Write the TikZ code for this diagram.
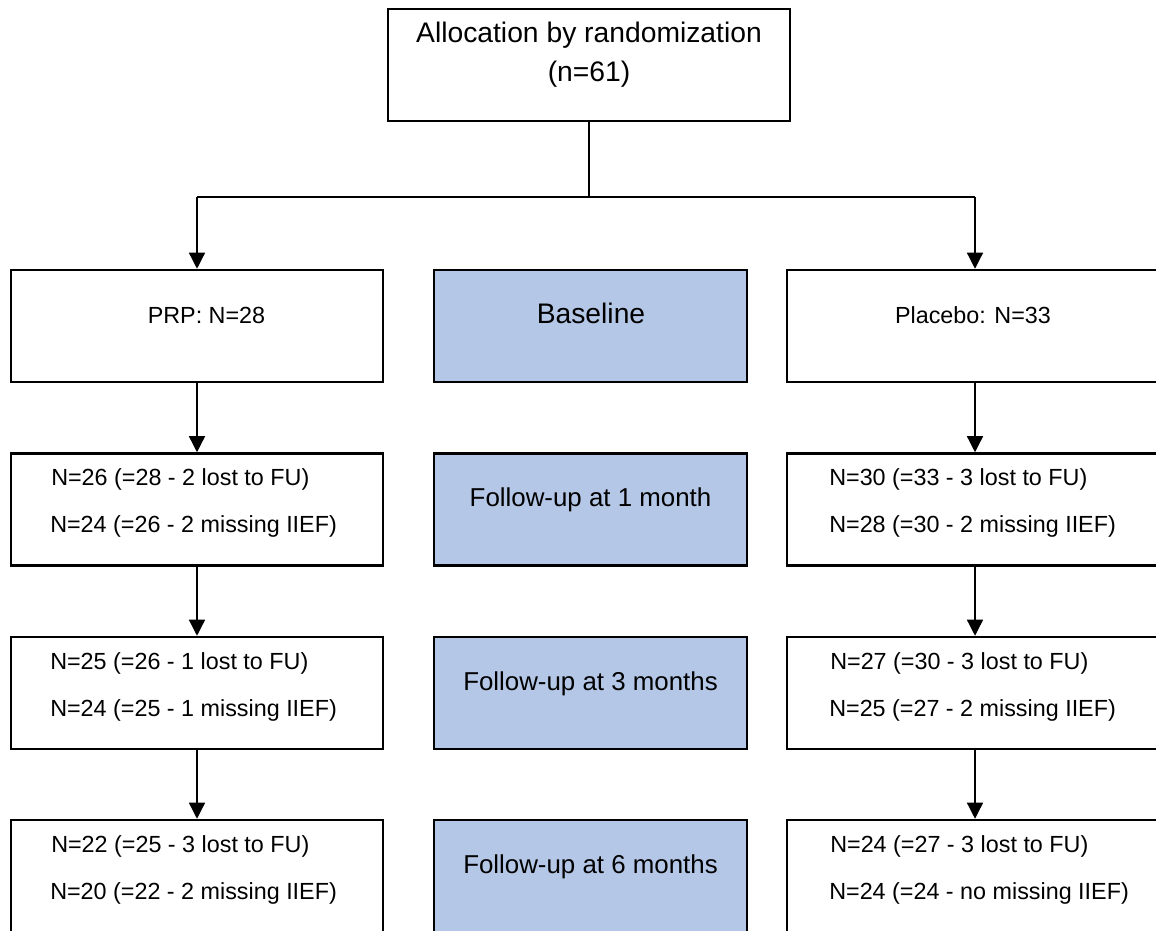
\documentclass[tikz,border=0pt]{standalone}
\usepackage{fontspec}
\setmainfont{Liberation Sans}
\usetikzlibrary{arrows.meta}
\definecolor{boxblue}{RGB}{180,199,231}
\begin{document}
\begin{tikzpicture}[x=0.75pt,y=-0.75pt,
  box/.style={draw=black,line width=1.9pt,minimum height=84pt,inner sep=0pt},
  lbox/.style={box,minimum width=279pt},
  mbox/.style={box,minimum width=234.75pt,fill=boxblue},
  rbox/.style={box,minimum width=287.25pt},
  conn/.style={draw=black,line width=1pt},
  arr/.style={conn,-{Triangle[length=12pt,width=12pt]}},
  small/.style={font=\fontsize{17.5}{21}\selectfont,inner sep=0pt,anchor=base west},
  big/.style={font=\fontsize{21.2}{25}\selectfont,inner sep=0pt,anchor=base},
  mid/.style={font=\fontsize{19.4}{23}\selectfont,inner sep=0pt,anchor=base},
  grp/.style={font=\fontsize{17.5}{21}\selectfont,inner sep=0pt,anchor=base}]
\useasboundingbox (0,0) rectangle (1156,931);
% boxes
\node[box,minimum width=301.5pt] (top) at (589,65) {};
\node[lbox] (L1) at (197,326) {};
\node[mbox] (M1) at (590.5,326) {};
\node[rbox] (R1) at (978.5,326) {};
\node[lbox] (L2) at (197,509.5) {};
\node[mbox] (M2) at (590.5,509.5) {};
\node[rbox] (R2) at (978.5,509.5) {};
\node[lbox] (L3) at (197,693) {};
\node[mbox] (M3) at (590.5,693) {};
\node[rbox] (R3) at (978.5,693) {};
\node[lbox] (L4) at (197,876) {};
\node[mbox] (M4) at (590.5,876) {};
\node[rbox] (R4) at (978.5,876) {};
% texts
\node[big] (t1) at (589,43) {Allocation by randomization};
\node[big] (t2) at (589,82) {(n=61)};
\node[grp] (tL1) at (206.5,323) {PRP: N=28};
\node[big] (tM1) at (591,323) {Baseline};
\node[grp] (tR1) at (973,323) {Placebo: N=33};
\node[mid] (tM2) at (590.5,506) {Follow-up at 1 month};
\node[mid] (tM3) at (590.5,690) {Follow-up at 3 months};
\node[mid] (tM4) at (590.5,873) {Follow-up at 6 months};
\node[small] (a2) at (51,485) {N=26 (=28 - 2 lost to FU)};
\node[small] (b2) at (50,532) {N=24 (=26 - 2 missing IIEF)};
\node[small] (a3) at (50,669) {N=25 (=26 - 1 lost to FU)};
\node[small] (b3) at (50,716) {N=24 (=25 - 1 missing IIEF)};
\node[small] (a4) at (51,852) {N=22 (=25 - 3 lost to FU)};
\node[small] (b4) at (50,899) {N=20 (=22 - 2 missing IIEF)};
\node[small] (c2) at (829,485) {N=30 (=33 - 3 lost to FU)};
\node[small] (d2) at (829,532) {N=28 (=30 - 2 missing IIEF)};
\node[small] (c3) at (830,669) {N=27 (=30 - 3 lost to FU)};
\node[small] (d3) at (829,716) {N=25 (=27 - 2 missing IIEF)};
\node[small] (c4) at (830,852) {N=24 (=27 - 3 lost to FU)};
\node[small] (d4) at (829,899) {N=24 (=24 - no missing IIEF)};
% connectors
\coordinate (jL) at (197,197);
\coordinate (jR) at (975,197);
\draw[conn] (top.south) -- (top.south |- jL);
\draw[conn] (jL) -- (jR);
\draw[arr] (jL) -- (L1.north);
\draw[arr] (jR) -- (R1.north -| jR);
\draw[arr] (L1.south) -- (L2.north);
\draw[arr] (L2.south) -- (L3.north);
\draw[arr] (L3.south) -- (L4.north);
\draw[arr] (R1.south -| jR) -- (R2.north -| jR);
\draw[arr] (R2.south -| jR) -- (R3.north -| jR);
\draw[arr] (R3.south -| jR) -- (R4.north -| jR);
\end{tikzpicture}
\end{document}
